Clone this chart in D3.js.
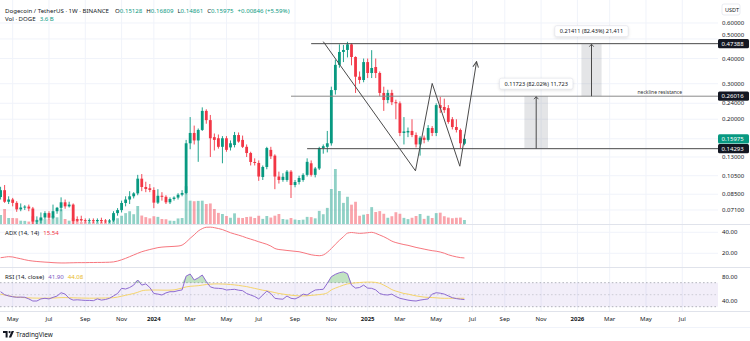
<!DOCTYPE html>
<html>
<head>
<meta charset="utf-8">
<script src="https://cdn.jsdelivr.net/npm/d3@7"></script>
<style>
  html, body { margin: 0; padding: 0; background: #ffffff; }
  svg { display: block; font-family: "Noto Sans", "DejaVu Sans", sans-serif; }
</style>
</head>
<body>
<svg id="chart" width="750" height="341"></svg>
<script>
// ---------- weekly DOGE/USDT candles, 2023-04-10 .. 2025-06-23 ----------
const opens = [
  0.0823,0.0890,0.0780,0.0800,0.0770,0.0715,0.0730,0.0738,0.0722,0.0622,
  0.0630,0.0652,0.0685,0.0650,0.0700,0.0728,0.0775,0.0740,0.0755,0.0640,
  0.0640,0.0632,0.0626,0.0632,0.0624,0.0633,0.0630,0.0622,0.0630,0.0685,
  0.0709,0.0769,0.0800,0.0830,0.0858,0.1015,0.0923,0.0910,0.0892,0.0772,
  0.0835,0.0825,0.0775,0.0805,0.0818,0.0845,0.0862,0.1520,0.1710,0.1570,
  0.1770,0.2200,0.1980,0.1630,0.1610,0.1460,0.1610,0.1450,0.1490,0.1670,
  0.1580,0.1460,0.1360,0.1228,0.1214,0.1035,0.1160,0.1410,0.1320,0.1040,
  0.1000,0.1000,0.1100,0.0944,0.0977,0.1000,0.1060,0.1210,0.1060,0.1140,
  0.1440,0.1460,0.1520,0.2790,0.3720,0.4310,0.4410,0.4700,0.4070,0.3250,
  0.3130,0.3840,0.3390,0.3630,0.3390,0.2700,0.2490,0.2700,0.2430,0.2400,
  0.1710,0.1720,0.1750,0.1670,0.1500,0.1620,0.1580,0.1810,0.1710,0.2350,
  0.2300,0.2270,0.2000,0.1830,0.1770,0.15128
];
const highs = [
  0.0925,0.0944,0.0830,0.0815,0.0785,0.0765,0.0750,0.0755,0.0735,0.0660,
  0.0690,0.0700,0.0700,0.0755,0.0735,0.0820,0.0800,0.0780,0.0765,0.0660,
  0.0665,0.0645,0.0645,0.0645,0.0645,0.0650,0.0640,0.0640,0.0700,0.0725,
  0.0790,0.0830,0.0880,0.0870,0.1060,0.1070,0.0980,0.0955,0.0920,0.0900,
  0.0870,0.0840,0.0820,0.0830,0.0860,0.0890,0.1580,0.2050,0.1860,0.1800,
  0.2290,0.2240,0.2100,0.1700,0.1680,0.1650,0.1650,0.1570,0.1730,0.1720,
  0.1660,0.1500,0.1380,0.1280,0.1250,0.1180,0.1460,0.1460,0.1340,0.1100,
  0.1080,0.1120,0.1120,0.1000,0.1050,0.1080,0.1280,0.1250,0.1160,0.1460,
  0.1500,0.1750,0.2900,0.3950,0.4700,0.4670,0.4840,0.4760,0.4100,0.3450,
  0.4000,0.4000,0.4400,0.4000,0.3450,0.2900,0.2800,0.2800,0.2500,0.2450,
  0.2050,0.1820,0.2000,0.1720,0.1650,0.1660,0.1870,0.1850,0.2400,0.2580,
  0.2530,0.2350,0.2050,0.2000,0.1800,0.16809
];
const lows = [
  0.0800,0.0770,0.0760,0.0740,0.0695,0.0700,0.0710,0.0700,0.0580,0.0600,
  0.0610,0.0640,0.0635,0.0640,0.0680,0.0700,0.0720,0.0730,0.0580,0.0620,
  0.0620,0.0615,0.0615,0.0612,0.0615,0.0612,0.0612,0.0612,0.0620,0.0665,
  0.0690,0.0740,0.0760,0.0810,0.0840,0.0880,0.0870,0.0870,0.0725,0.0760,
  0.0790,0.0760,0.0760,0.0790,0.0800,0.0830,0.0850,0.1420,0.1500,0.1230,
  0.1750,0.1900,0.1300,0.1400,0.1430,0.1210,0.1380,0.1400,0.1450,0.1530,
  0.1440,0.1300,0.1180,0.1180,0.0990,0.1000,0.1130,0.1270,0.0900,0.0960,
  0.0980,0.0980,0.0814,0.0920,0.0950,0.0980,0.1040,0.1040,0.1030,0.1120,
  0.1350,0.1370,0.1480,0.2650,0.3600,0.3840,0.4050,0.3700,0.2700,0.3000,
  0.3050,0.3200,0.3200,0.3200,0.2600,0.2200,0.2400,0.2350,0.2000,0.1650,
  0.1500,0.1630,0.1630,0.1450,0.1320,0.1520,0.1550,0.1650,0.1650,0.2150,
  0.2150,0.1900,0.1780,0.1720,0.1440,0.14861
];
const closes = [
  0.0890,0.0780,0.0800,0.0770,0.0715,0.0730,0.0738,0.0722,0.0622,0.0630,
  0.0652,0.0685,0.0650,0.0700,0.0728,0.0775,0.0740,0.0755,0.0625,0.0628,
  0.0630,0.0626,0.0632,0.0624,0.0633,0.0625,0.0622,0.0630,0.0685,0.0709,
  0.0769,0.0800,0.0830,0.0858,0.1015,0.0923,0.0902,0.0892,0.0772,0.0835,
  0.0825,0.0775,0.0805,0.0818,0.0845,0.0862,0.1520,0.1710,0.1570,0.1770,
  0.2200,0.1980,0.1610,0.1580,0.1460,0.1610,0.1410,0.1520,0.1670,0.1550,
  0.1460,0.1360,0.1228,0.1214,0.1040,0.1160,0.1440,0.1310,0.1040,0.1000,
  0.1037,0.1100,0.0944,0.0977,0.1023,0.1060,0.1230,0.1060,0.1140,0.1440,
  0.1470,0.1520,0.2790,0.3720,0.4310,0.4410,0.4700,0.4070,0.3250,0.3130,
  0.3840,0.3390,0.3590,0.3390,0.2700,0.2490,0.2700,0.2430,0.2400,0.1710,
  0.1740,0.1750,0.1670,0.1500,0.1620,0.1580,0.1810,0.1710,0.2350,0.2270,
  0.2220,0.1940,0.1830,0.1770,0.1520,0.15975
];
// weekly volume, billions of DOGE
const volumes = [
  8.1,13.5,5.4,5.4,5.2,3.0,2.8,2.2,7.0,3.8,
  5.0,4.4,4.2,7.2,6.0,13.2,4.5,3.0,5.6,3.4,
  1.8,2.0,1.7,1.9,1.6,2.1,1.8,2.3,8.0,5.2,
  7.4,9.8,11.5,8.8,16.2,7.6,6.2,5.1,7.0,6.4,
  4.5,4.3,3.0,2.8,5.0,5.4,34.0,21.0,20.5,20.8,
  21.0,18.0,18.5,13.5,10.0,9.0,7.2,5.6,9.6,5.6,
  5.4,6.3,6.6,5.4,7.4,4.6,7.2,5.8,7.5,9.0,
  4.5,4.0,5.4,4.0,3.6,3.9,6.4,6.2,5.1,11.8,
  8.8,14.5,31.5,49.5,29.7,19.0,24.5,17.4,20.0,7.4,
  8.4,9.0,15.2,10.8,11.6,9.2,5.6,7.0,10.6,9.2,
  5.5,4.4,5.6,7.2,9.0,4.6,7.4,5.4,9.8,10.2,
  7.0,5.8,5.2,5.6,5.8,3.6
];
// ADX (14, 14)
const adxValues = [
  15.8,16.3,16.8,16.5,15.6,14.8,13.9,13.1,12.6,12.2,
  11.9,11.6,11.4,11.1,10.9,10.8,10.8,10.9,11.0,11.1,
  11.1,11.1,11.2,11.2,11.3,11.3,11.4,11.5,11.8,12.6,
  13.8,15.2,16.8,18.4,20.0,21.5,22.6,23.6,24.5,25.4,
  25.9,26.2,26.4,26.6,26.9,27.8,30.6,34.3,37.6,41.2,
  43.5,44.8,44.9,44.4,43.6,42.6,41.1,39.6,38.4,37.3,
  36.1,34.7,33.5,32.3,31.0,29.8,28.6,26.9,24.6,23.6,
  23.2,22.7,22.3,21.9,21.5,20.6,19.6,18.6,18.0,17.7,
  18.4,21.0,24.5,28.6,32.4,35.8,39.2,39.8,39.4,39.0,
  39.2,39.6,40.0,39.0,37.4,35.8,33.8,31.6,30.2,29.2,
  28.3,27.6,26.6,25.6,24.8,24.0,23.2,22.5,22.0,21.2,
  20.1,18.6,17.5,16.6,15.9,15.54
];
// RSI (14, close) and its moving average
const rsiValues = [
  55,50,48,46.5,45.7,46,45.7,43,39.5,39.5,
  43,44,43,45.5,47.8,53.3,51,44,41,41.5,
  41,40.5,40.5,40,43,41,42,44,48,52,
  60.6,59.5,62,66,74.5,66,68,62,52,51,
  49.5,53,55,55,56.7,58,81,84.5,74.5,78,
  82.8,72,63,61,60.6,60,57.8,58.5,59,57.5,
  56.7,52,49.5,47,43,49.5,56,52,44,43,
  42.5,47.8,44,43,46,51,49.5,54,57.8,58.5,
  59,69,80,84,86.7,88,85,66,61,62,
  66,61,60.6,58,52,50,49.5,51,47,44,
  42.5,41,40,39.5,41,42,43,51,53.3,52.5,
  51,48,45,43.5,42.5,41.9
];
const rsiMaValues = [
  51,49.5,48,47,46,45.5,45,44.7,44.4,44.3,
  44.2,44.2,44.3,44.5,44.8,45.1,45.2,45,44.8,44.6,
  44.4,44.3,44.2,44.2,44.3,44.4,44.5,44.7,45,46,
  47.5,49,50.5,52,54,56.5,57.5,57.8,57.8,57.8,
  57.6,57.5,57.6,58,59.5,61,63,64,64.5,65,
  66,67,67.5,68,68,67.8,67.5,67,66.3,65.5,
  64.5,63.5,62,60.5,59,57.5,56.5,55,53.5,52,
  51,50,49.2,48.5,48,48,48.3,48.8,49.5,50.2,
  51,53,58,61,63.5,66,68,69,69.8,70.3,
  70.8,71,71,70.5,69,66,62.5,58.5,56,54,
  52,51,49.5,48,47,46,45.5,45.2,44.8,44.2,
  44,44,44,44,44.05,44.08
];

// axis ticks (price ticks hidden behind a tag are listed without a label)
const priceTicks = [0.6, 0.5, 0.4, 0.3, 0.24, 0.2, 0.16, 0.13, 0.105, 0.085, 0.071];
const priceTickShown = [true, true, true, true, true, true, false, true, true, true, true];
const timeTickDates = ["2023-05-01","2023-07-03","2023-09-04","2023-11-06","2024-01-01","2024-03-04",
  "2024-05-06","2024-07-01","2024-09-02","2024-11-04","2025-01-06","2025-03-03","2025-05-05",
  "2025-07-07","2025-09-01","2025-11-03","2026-01-05","2026-03-02","2026-05-04","2026-07-06"];
const timeTickLabels = ["May","Jul","Sep","Nov","2024","Mar","May","Jul","Sep","Nov","2025","Mar",
  "May","Jul","Sep","Nov","2026","Mar","May","Jul"];
const adxTicks = [40, 20];
const rsiTicks = [80, 40];

// drawn levels and projection
const levelPrices = [0.47388, 0.26016, 0.14293];
const levelStarts = ["2024-09-30", "2024-08-26", "2024-09-23"];
const levelStrokes = ["#4a4a4a", "#8a8a8a", "#4a4a4a"];
const pathDates = ["2024-10-21", "2025-03-30", "2025-04-28", "2025-06-15", "2025-07-14"];
const pathPrices = [0.485, 0.111, 0.301, 0.117, 0.386];
const rangeFrom = ["2025-10-05", "2026-01-12"];
const rangeTo = ["2025-11-15", "2026-02-16"];
const rangeLow = [0.14293, 0.26016];
const rangeHigh = [0.26016, 0.47388];
const rangeLabels = ["0.11723 (82.02%) 11,723", "0.21411 (82.43%) 21,411"];

// ---------- layout ----------
const plotRight = 718;
const pricePane = [0, 224];
const adxPane = [224, 267];
const rsiPane = [267, 311];
const UP = "#089981", DOWN = "#f23645";
const GRID = "#f0f3fa", TEXT = "#131722";

const svg = d3.select("#chart");
const parse = d3.utcParse("%Y-%m-%d");
const weeks = d3.utcMonday.range(new Date(Date.UTC(2023, 3, 10)), new Date(Date.UTC(2025, 5, 24)));
const bars = weeks.map((d, i) => ({
  date: d, o: opens[i], h: highs[i], l: lows[i], c: closes[i],
  v: volumes[i], adx: adxValues[i], rsi: rsiValues[i], ma: rsiMaValues[i]
}));

const x = d3.scaleUtc()
  .domain([new Date(Date.UTC(2023, 3, 9)), new Date(Date.UTC(2026, 8, 6))])
  .range([0, plotRight]);
const y = d3.scaleLog().domain([0.0605, 0.78]).range([pricePane[1], pricePane[0]]);
const yVol = d3.scaleLinear().domain([0, 90]).range([pricePane[1], pricePane[1] - 100]);
const yAdx = d3.scaleLinear().domain([20, 40]).range([253.3, 232.3]);
const yRsi = d3.scaleLinear().domain([30, 70]).range([306.7, 282.7]);

const defs = svg.append("defs");
function clip(id, y0, y1) {
  defs.append("clipPath").attr("id", id)
    .append("rect").attr("x", 0).attr("y", y0).attr("width", plotRight).attr("height", y1 - y0);
}
clip("cp-price", pricePane[0], pricePane[1]);
clip("cp-adx", adxPane[0], adxPane[1]);
clip("cp-rsi", rsiPane[0], rsiPane[1]);

defs.append("marker").attr("id", "arrowOpen")
  .attr("viewBox", "0 0 10 10").attr("refX", 9).attr("refY", 5)
  .attr("markerWidth", 7).attr("markerHeight", 7).attr("orient", "auto")
  .append("path").attr("d", "M1,1 L9,5 L1,9").attr("fill", "none")
  .attr("stroke", "#4a4a4a").attr("stroke-width", 1.4);

// ---------- grid ----------
const grid = svg.append("g");
timeTickDates.forEach(s => {
  grid.append("line").attr("x1", x(parse(s))).attr("x2", x(parse(s)))
    .attr("y1", 0).attr("y2", rsiPane[1]).attr("stroke", GRID).attr("stroke-width", 1);
});
priceTicks.forEach(p => {
  grid.append("line").attr("x1", 0).attr("x2", plotRight).attr("y1", y(p)).attr("y2", y(p))
    .attr("stroke", GRID).attr("stroke-width", 1);
});
adxTicks.forEach(v => {
  grid.append("line").attr("x1", 0).attr("x2", plotRight).attr("y1", yAdx(v)).attr("y2", yAdx(v))
    .attr("stroke", GRID).attr("stroke-width", 1);
});
// pane separators
[adxPane[0], rsiPane[0], rsiPane[1]].forEach(v => {
  svg.append("line").attr("x1", 0).attr("x2", 750).attr("y1", v + 0.5).attr("y2", v + 0.5)
    .attr("stroke", "#e0e3eb").attr("stroke-width", 1);
});
svg.append("line").attr("x1", 0).attr("x2", 750).attr("y1", 327.5).attr("y2", 327.5)
  .attr("stroke", "#f0f3fa").attr("stroke-width", 1);

// ---------- price pane ----------
const pg = svg.append("g").attr("clip-path", "url(#cp-price)");
const bw = 2.8;
// volume
pg.append("g").selectAll("rect").data(bars).join("rect")
  .attr("x", d => x(d.date) - bw / 2).attr("width", bw)
  .attr("y", d => yVol(d.v)).attr("height", d => yVol(0) - yVol(d.v))
  .attr("fill", d => d.c >= d.o ? "rgba(8,153,129,0.45)" : "rgba(242,54,69,0.45)");
// wicks
pg.append("g").selectAll("line").data(bars).join("line")
  .attr("x1", d => x(d.date)).attr("x2", d => x(d.date))
  .attr("y1", d => y(d.h)).attr("y2", d => y(d.l))
  .attr("stroke", d => d.c >= d.o ? UP : DOWN).attr("stroke-width", 0.9);
// bodies
pg.append("g").selectAll("rect").data(bars).join("rect")
  .attr("x", d => x(d.date) - bw / 2).attr("width", bw)
  .attr("y", d => y(Math.max(d.o, d.c)))
  .attr("height", d => Math.max(1, y(Math.min(d.o, d.c)) - y(Math.max(d.o, d.c))))
  .attr("fill", d => d.c >= d.o ? UP : DOWN);

// drawn horizontal levels
levelPrices.forEach((p, i) => {
  pg.append("line").attr("x1", x(parse(levelStarts[i]))).attr("x2", plotRight)
    .attr("y1", y(p)).attr("y2", y(p)).attr("stroke", levelStrokes[i]).attr("stroke-width", 1);
});
pg.append("text").attr("x", x(parse("2026-05-28"))).attr("y", y(0.26016) - 2.4)
  .attr("text-anchor", "middle").attr("font-size", 5).attr("fill", "#333")
  .text("neckline resistance");

// projected path
const pathLine = d3.line().x(d => x(parse(d[0]))).y(d => y(d[1]));
pg.append("path").datum(pathDates.map((d, i) => [d, pathPrices[i]]))
  .attr("d", pathLine).attr("fill", "none").attr("stroke", "#4a4a4a").attr("stroke-width", 1)
  .attr("marker-end", "url(#arrowOpen)");

// price range measurements
rangeFrom.forEach((s, i) => {
  const x0 = x(parse(s)), x1 = x(parse(rangeTo[i]));
  const yt = y(rangeHigh[i]), yb = y(rangeLow[i]);
  const xm = (x0 + x1) / 2;
  pg.append("rect").attr("x", x0).attr("y", yt).attr("width", x1 - x0).attr("height", yb - yt)
    .attr("fill", "rgba(120,123,134,0.2)");
  pg.append("line").attr("x1", xm).attr("x2", xm).attr("y1", yb).attr("y2", yt + 0.5)
    .attr("stroke", "#4a4a4a").attr("stroke-width", 1);
  pg.append("path").attr("d", `M${xm - 2.2},${yt + 3} L${xm},${yt + 0.5} L${xm + 2.2},${yt + 3}`)
    .attr("fill", "none").attr("stroke", "#4a4a4a").attr("stroke-width", 0.9);
  const lg = pg.append("g");
  const t = lg.append("text").attr("x", xm).attr("y", yt - 12.5).attr("text-anchor", "middle")
    .attr("dominant-baseline", "central").attr("font-size", 5.6).attr("fill", TEXT).text(rangeLabels[i]);
  const tw = t.node().getComputedTextLength();
  lg.insert("rect", "text").attr("x", xm - tw / 2 - 5).attr("y", yt - 18).attr("width", tw + 10)
    .attr("height", 11).attr("rx", 2).attr("fill", "#fff")
    .attr("stroke", "#e0e3eb").attr("stroke-width", 0.6)
    .style("filter", "drop-shadow(0px 1px 1.5px rgba(0,0,0,0.12))");
});

// ---------- ADX pane ----------
const ag = svg.append("g").attr("clip-path", "url(#cp-adx)");
ag.append("path").datum(bars)
  .attr("d", d3.line().x(d => x(d.date)).y(d => yAdx(d.adx)).curve(d3.curveMonotoneX))
  .attr("fill", "none").attr("stroke", "#f7767e").attr("stroke-width", 1);

// ---------- RSI pane ----------
const rg = svg.append("g").attr("clip-path", "url(#cp-rsi)");
rg.append("rect").attr("x", 0).attr("width", plotRight).attr("y", yRsi(70))
  .attr("height", yRsi(30) - yRsi(70)).attr("fill", "rgba(126,87,194,0.1)");
[70, 50, 30].forEach(v => {
  rg.append("line").attr("x1", 0).attr("x2", plotRight).attr("y1", yRsi(v)).attr("y2", yRsi(v))
    .attr("stroke", "#9598a1").attr("stroke-width", 0.8).attr("stroke-dasharray", "1.6,2.2")
    .attr("opacity", v === 50 ? 0.5 : 0.9);
});
// overbought fill
rg.append("path").datum(bars)
  .attr("d", d3.area().x(d => x(d.date)).y0(yRsi(70))
    .y1(d => yRsi(Math.max(70, d.rsi))).curve(d3.curveLinear))
  .attr("fill", "rgba(76,175,80,0.35)");
rg.append("path").datum(bars)
  .attr("d", d3.line().x(d => x(d.date)).y(d => yRsi(d.ma)).curve(d3.curveMonotoneX))
  .attr("fill", "none").attr("stroke", "#f5d46a").attr("stroke-width", 1);
rg.append("path").datum(bars)
  .attr("d", d3.line().x(d => x(d.date)).y(d => yRsi(d.rsi)))
  .attr("fill", "none").attr("stroke", "#8e6bd1").attr("stroke-width", 1);

// ---------- right axis ----------
const axisG = svg.append("g").attr("font-size", 6).attr("fill", TEXT);
priceTicks.forEach((p, i) => {
  if (!priceTickShown[i]) return;
  // a tick that sits right under a price tag only peeks out above it
  const ty = p === 0.5 ? y(p) - 3.6 : y(p);
  axisG.append("text").attr("x", 722).attr("y", ty).attr("dominant-baseline", "central")
    .text(d3.format(".5f")(p));
});
adxTicks.forEach(v => {
  axisG.append("text").attr("x", 722).attr("y", yAdx(v)).attr("dominant-baseline", "central")
    .text(d3.format(".2f")(v));
});
rsiTicks.forEach(v => {
  axisG.append("text").attr("x", 722).attr("y", 276.7 + (80 - v) * 0.6).attr("dominant-baseline", "central")
    .text(d3.format(".2f")(v));
});
// USDT unit tag
svg.append("rect").attr("x", 722).attr("y", 4).attr("width", 18).attr("height", 11).attr("rx", 2)
  .attr("fill", "#fff").attr("stroke", "#e0e3eb").attr("stroke-width", 0.7);
svg.append("text").attr("x", 725).attr("y", 9.8).attr("dominant-baseline", "central")
  .attr("font-size", 5.5).attr("fill", TEXT).text("USDT");

// price tags on the axis
const tagPrices = [0.47388, 0.26016, 0.15975, 0.14293];
const tagFills = ["#131722", "#131722", UP, "#131722"];
tagPrices.forEach((p, i) => {
  const cy = y(p);
  svg.append("rect").attr("x", 718).attr("y", cy - 4.6).attr("width", 31).attr("height", 9.2)
    .attr("rx", 1.5).attr("fill", tagFills[i]);
  svg.append("text").attr("x", 721.5).attr("y", cy + 0.2).attr("dominant-baseline", "central")
    .attr("font-size", 6).attr("fill", "#fff").text(d3.format(".5f")(p));
});

// ---------- time axis ----------
timeTickDates.forEach((s, i) => {
  const isYear = /^\d{4}$/.test(timeTickLabels[i]);
  svg.append("text").attr("x", x(parse(s))).attr("y", 319).attr("text-anchor", "middle")
    .attr("dominant-baseline", "central").attr("font-size", 6)
    .attr("font-weight", isYear ? "bold" : "normal").attr("fill", TEXT)
    .text(timeTickLabels[i]);
});

// ---------- legends ----------
const hdr = svg.append("text").attr("x", 5).attr("y", 10).attr("dominant-baseline", "central")
  .attr("font-size", 6.1).attr("fill", TEXT);
hdr.append("tspan").text("Dogecoin / TetherUS · 1W · BINANCE");
[["O", "0.15128"], ["H", "0.16809"], ["L", "0.14861"], ["C", "0.15975"]].forEach(([k, v], i) => {
  hdr.append("tspan").attr("dx", i === 0 ? 6 : 4).text(k);
  hdr.append("tspan").attr("fill", UP).text(v);
});
hdr.append("tspan").attr("dx", 4).attr("fill", UP).text("+0.00846 (+5.59%)");

const vol = svg.append("text").attr("x", 5).attr("y", 18).attr("dominant-baseline", "central")
  .attr("font-size", 6.1).attr("fill", TEXT);
vol.append("tspan").text("Vol · DOGE");
vol.append("tspan").attr("dx", 4).attr("fill", UP).text("3.6 B");

const adxLbl = svg.append("text").attr("x", 5).attr("y", 232.3).attr("dominant-baseline", "central")
  .attr("font-size", 6.1).attr("fill", TEXT);
adxLbl.append("tspan").text("ADX (14, 14)");
adxLbl.append("tspan").attr("dx", 4).attr("fill", "#f23645").text("15.54");

const rsiLbl = svg.append("text").attr("x", 5).attr("y", 275.7).attr("dominant-baseline", "central")
  .attr("font-size", 6.1).attr("fill", TEXT);
rsiLbl.append("tspan").text("RSI (14, close)");
rsiLbl.append("tspan").attr("dx", 4).attr("fill", "#7e57c2").text("41.90");
rsiLbl.append("tspan").attr("dx", 4).attr("fill", "#e8b923").text("44.08");

// ---------- footer mark ----------
const logo = svg.append("g").attr("transform", "translate(3,331)");
logo.append("path").attr("d", "M0,0 H4.6 V6.4 H2.6 V2 H0 Z").attr("fill", TEXT);
logo.append("circle").attr("cx", 6.6).attr("cy", 1.1).attr("r", 1.1).attr("fill", TEXT);
logo.append("path").attr("d", "M8.6,0 H11 L8.2,6.4 H5.8 Z").attr("fill", TEXT);
svg.append("text").attr("x", 16).attr("y", 334.3).attr("dominant-baseline", "central")
  .attr("font-size", 6.4).attr("fill", TEXT).text("TradingView");
</script>
</body>
</html>
